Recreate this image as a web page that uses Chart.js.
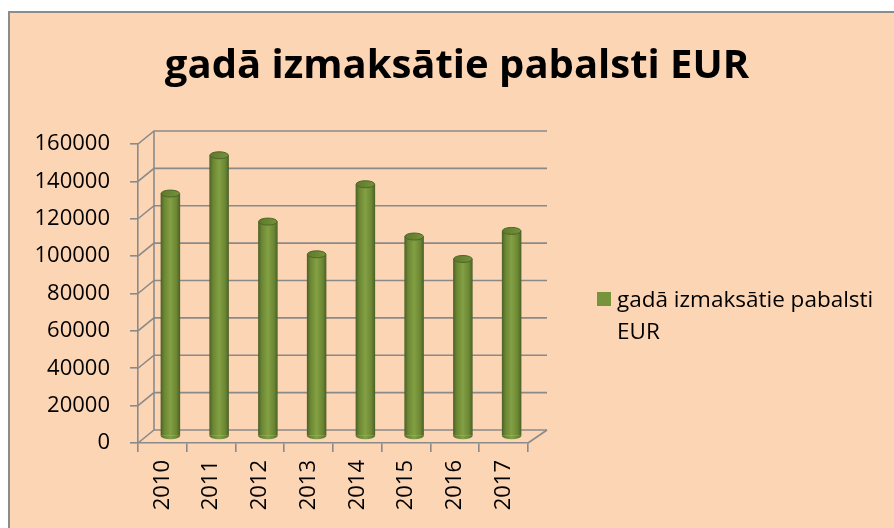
<!DOCTYPE html>
<html>
<head>
<meta charset="utf-8">
<script src="https://cdn.jsdelivr.net/npm/chart.js@4.4.1/dist/chart.umd.min.js"></script>
<style>
  html, body { margin: 0; padding: 0; background: #ffffff; }
  #wrap { width: 894px; height: 528px; }
</style>
</head>
<body>
<div id="wrap"><canvas id="my-chart" width="894" height="528"></canvas></div>
<script>
var years = ['2010', '2011', '2012', '2013', '2014', '2015', '2016', '2017']
var payments = [130000, 150500, 115000, 97500, 135000, 107000, 95000, 110000]
var seriesName = 'gadā izmaksātie pabalsti EUR'
var chartTitle = 'gadā izmaksātie pabalsti EUR'
var yMin = 0, yMax = 160000, yStep = 20000

var FONT = '"Open Sans", "Noto Sans", sans-serif'
var GRID = '#8a8a8a'
var PEACH = '#fcd5b4'
var DEPTH = { dx: 16, dy: -13 }   // back wall offset from the front axis

// cylinder body shading, left to right
function barShade(c, x0, x1) {
    var g = c.createLinearGradient(x0, 0, x1, 0)
    g.addColorStop(0, '#4b5f25')
    g.addColorStop(0.18, '#6a8633')
    g.addColorStop(0.5, '#83a044')
    g.addColorStop(0.82, '#6a8633')
    g.addColorStop(1, '#4b5f25')
    return g
}

var scene = {
    id: 'scene',
    beforeDraw: function(chart) {
        var c = chart.ctx
        c.save()
        c.fillStyle = '#ffffff'
        c.fillRect(0, 0, chart.width, chart.height)
        c.fillStyle = PEACH
        c.fillRect(8, 11, chart.width - 8, chart.height - 11)
        c.strokeStyle = '#8c8c8c'
        c.lineWidth = 2
        c.beginPath()
        c.moveTo(9, chart.height)
        c.lineTo(9, 12)
        c.lineTo(chart.width, 12)
        c.stroke()
        c.restore()
    },
    beforeDatasetsDraw: function(chart) {
        var c = chart.ctx
        var ys = chart.scales.y
        var area = chart.chartArea
        var bx = area.left + DEPTH.dx
        var rx = area.right + DEPTH.dx + 3
        c.save()
        c.strokeStyle = GRID
        c.lineWidth = 1.6
        // back wall and side wall lines
        ys.ticks.forEach(function(t) {
            var y = ys.getPixelForValue(t.value)
            c.beginPath()
            c.moveTo(area.left, y)
            c.lineTo(bx, y + DEPTH.dy)
            c.lineTo(rx, y + DEPTH.dy)
            c.stroke()
        })
        c.beginPath()
        c.moveTo(bx, ys.getPixelForValue(yMax) + DEPTH.dy)
        c.lineTo(bx, ys.getPixelForValue(yMin) + DEPTH.dy)
        c.stroke()
        // floor right edge
        c.beginPath()
        c.moveTo(area.right, area.bottom)
        c.lineTo(rx, area.bottom + DEPTH.dy)
        c.stroke()
        c.restore()

        // bars stand half way into the depth
        c.save()
        c.translate(DEPTH.dx / 2, DEPTH.dy / 2)
    },
    afterDatasetsDraw: function(chart) {
        var c = chart.ctx
        var meta = chart.getDatasetMeta(0)
        meta.data.forEach(function(el) {
            var p = el.getProps(['x', 'y', 'base', 'width'], true)
            var r = p.width / 2
            // rounded foot
            c.fillStyle = barShade(c, p.x - r, p.x + r)
            c.beginPath()
            c.ellipse(p.x, p.base, r, 3.5, 0, 0, Math.PI)
            c.fill()
            // top cap
            var g = c.createLinearGradient(p.x - r, 0, p.x + r, 0)
            g.addColorStop(0, '#5d782c')
            g.addColorStop(1, '#759339')
            c.fillStyle = g
            c.strokeStyle = '#4f6627'
            c.lineWidth = 1
            c.beginPath()
            c.ellipse(p.x, p.y, r - 0.5, 3.5, 0, 0, Math.PI * 2)
            c.fill()
            c.stroke()
        })
        c.restore()
    },
    afterDraw: function(chart) {
        var c = chart.ctx
        c.save()
        c.fillStyle = '#000000'
        c.textAlign = 'center'
        c.textBaseline = 'alphabetic'
        c.font = 'bold 40px ' + FONT
        c.fillText(chartTitle, 457, 78)

        // legend
        c.fillStyle = '#77933c'
        c.fillRect(597, 292, 14, 14)
        c.fillStyle = '#000000'
        c.textAlign = 'left'
        c.font = '22.5px ' + FONT
        var words = seriesName.split(' ')
        c.fillText(words.slice(0, 3).join(' '), 617, 307)
        c.fillText(words.slice(3).join(' '), 617, 339)
        c.restore()
    }
}

var chart = new Chart(document.getElementById('my-chart').getContext('2d'), {
    type: 'bar',
    data: {
        labels: years,
        datasets: [{
            label: seriesName,
            data: payments,
            backgroundColor: function(ctx) {
                var xs = ctx.chart.scales.x
                if (!xs || ctx.dataIndex === undefined) return '#77933c'
                var cx = xs.getPixelForValue(ctx.dataIndex)
                var r = (xs.width / years.length) * 0.4 / 2
                if (!isFinite(cx) || !isFinite(r)) return '#77933c'
                return barShade(ctx.chart.ctx, cx - r, cx + r)
            },
            borderWidth: 0,
            categoryPercentage: 1,
            barPercentage: 0.4
        }]
    },
    options: {
        responsive: false,
        animation: false,
        layout: { padding: { top: 144, left: 0, right: 366, bottom: 0 } },
        plugins: {
            legend: { display: false },
            title: { display: false },
            tooltip: { enabled: false }
        },
        scales: {
            x: {
                grid: { drawOnChartArea: false, drawTicks: true, tickLength: 9, color: GRID, lineWidth: 1.6 },
                border: { display: true, color: GRID, width: 1.6 },
                ticks: { color: '#000000', font: { family: FONT, size: 22 }, minRotation: 90, maxRotation: 90, padding: 8 },
                afterFit: function(scale) { scale.height = 85 }
            },
            y: {
                min: yMin,
                max: yMax,
                grid: { drawOnChartArea: false, drawTicks: true, tickLength: 8, color: GRID, lineWidth: 1.6 },
                border: { display: true, color: GRID, width: 1.6 },
                ticks: {
                    stepSize: yStep,
                    color: '#000000',
                    font: { family: FONT, size: 22 },
                    padding: 20,
                    callback: function(v) { return String(v) }
                },
                afterFit: function(scale) { scale.width = 138 }
            }
        }
    },
    plugins: [scene]
})
</script>
</body>
</html>
